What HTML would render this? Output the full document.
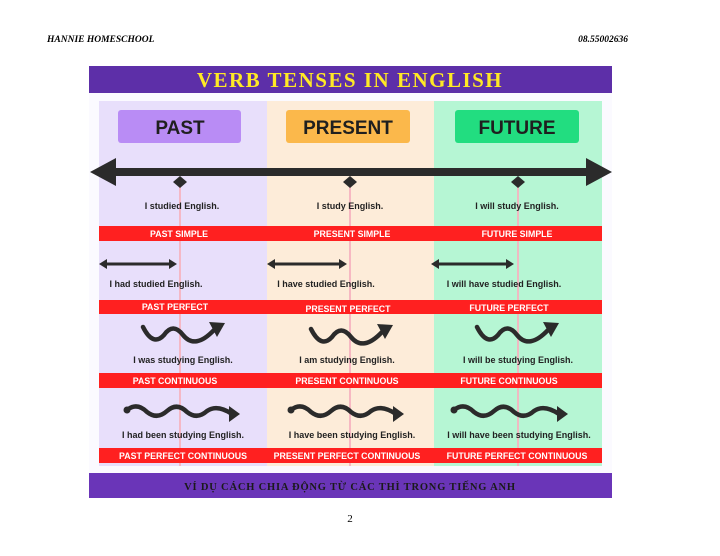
<!DOCTYPE html>
<html><head><meta charset="utf-8"><style>
html,body{margin:0;padding:0;background:#fff;width:720px;height:556px;overflow:hidden}
svg{display:block}
</style></head><body>
<svg width="720" height="556" viewBox="0 0 720 556" xmlns="http://www.w3.org/2000/svg">
<rect width="720" height="556" fill="#fff"/>
<text x="47" y="42" font-family="Liberation Serif, serif" font-style="italic" font-weight="bold" font-size="9.5">HANNIE HOMESCHOOL</text>
<text x="628" y="42" text-anchor="end" font-family="Liberation Serif, serif" font-style="italic" font-weight="bold" font-size="9.5">08.55002636</text>
<text x="350" y="522" text-anchor="middle" font-family="Liberation Serif, serif" font-size="11">2</text>

<rect x="89" y="93" width="523" height="380" fill="#fbfaff"/>
<rect x="89" y="66" width="523" height="27" fill="#5d2fa8"/>
<text x="350" y="87" text-anchor="middle" font-family="Liberation Serif, serif" font-weight="bold" font-size="21" fill="#ffe925" letter-spacing="1.5">VERB TENSES IN ENGLISH</text>

<rect x="99" y="101" width="168" height="365" fill="#e8dffb"/>
<rect x="267" y="101" width="167" height="365" fill="#fdecd9"/>
<rect x="434" y="101" width="168" height="365" fill="#b6f6d4"/>
<rect x="118" y="110" width="123" height="33" rx="3" fill="#b98cf5"/>
<rect x="286" y="110" width="124" height="33" rx="3" fill="#fbb84b"/>
<rect x="455" y="110" width="124" height="33" rx="3" fill="#22dd80"/>
<g font-family="Liberation Sans, sans-serif" font-weight="bold" font-size="19" fill="#1f1f1f" text-anchor="middle">
<text x="180" y="134">PAST</text><text x="348" y="134">PRESENT</text><text x="517" y="134">FUTURE</text>
</g>

<g stroke="#f6b3c0" stroke-width="1.8">
<line x1="180" y1="182" x2="180" y2="466"/><line x1="350" y1="182" x2="350" y2="466"/><line x1="518" y1="182" x2="518" y2="466"/>
</g>

<rect x="112" y="168" width="478" height="8" fill="#2b2b2b"/>
<polygon points="90,172 116,158 116,186" fill="#2b2b2b"/>
<polygon points="612,172 586,158 586,186" fill="#2b2b2b"/>
<g fill="#2b2b2b">
<polygon points="180,176 187,182 180,188 173,182"/>
<polygon points="350,176 357,182 350,188 343,182"/>
<polygon points="518,176 525,182 518,188 511,182"/>
</g>

<g fill="#ff2020">
<rect x="99" y="226" width="503" height="15"/>
<rect x="99" y="300" width="503" height="14"/>
<rect x="99" y="373" width="503" height="15"/>
<rect x="99" y="448" width="503" height="15"/>
</g>

<g font-family="Liberation Sans, sans-serif" font-weight="bold" font-size="9" fill="#222" text-anchor="middle">
<text x="182" y="209">I studied English.</text><text x="350" y="209">I study English.</text><text x="517" y="209">I will study English.</text>
<text x="156" y="287">I had studied English.</text><text x="326" y="287">I have studied English.</text><text x="504" y="287">I will have studied English.</text>
<text x="183" y="363">I was studying English.</text><text x="347" y="363">I am studying English.</text><text x="518" y="363">I will be studying English.</text>
<text x="183" y="438">I had been studying English.</text><text x="352" y="438">I have been studying English.</text><text x="519" y="438">I will have been studying English.</text>
</g>
<g font-family="Liberation Sans, sans-serif" font-weight="bold" font-size="8.8" fill="#fff" text-anchor="middle">
<text x="179" y="237">PAST SIMPLE</text><text x="352" y="237">PRESENT SIMPLE</text><text x="517" y="237">FUTURE SIMPLE</text>
<text x="175" y="310">PAST PERFECT</text><text x="348" y="312">PRESENT PERFECT</text><text x="509" y="311">FUTURE PERFECT</text>
<text x="175" y="384">PAST CONTINUOUS</text><text x="347" y="384">PRESENT CONTINUOUS</text><text x="509" y="384">FUTURE CONTINUOUS</text>
<text x="183" y="459">PAST PERFECT CONTINUOUS</text><text x="347" y="459">PRESENT PERFECT CONTINUOUS</text><text x="517" y="459">FUTURE PERFECT CONTINUOUS</text>
</g>

<g stroke="#2b2b2b" stroke-width="3" fill="#2b2b2b">
<line x1="104" y1="264" x2="172" y2="264"/><polygon points="99,264 107,259 107,269" stroke="none"/><polygon points="177,264 169,259 169,269" stroke="none"/>
<line x1="272" y1="264" x2="342" y2="264"/><polygon points="267,264 275,259 275,269" stroke="none"/><polygon points="347,264 339,259 339,269" stroke="none"/>
<line x1="436" y1="264" x2="509" y2="264"/><polygon points="431,264 439,259 439,269" stroke="none"/><polygon points="514,264 506,259 506,269" stroke="none"/>
</g>

<g fill="none" stroke="#2b2b2b" stroke-width="4.5" stroke-linecap="round">
<path d="M143,327 Q153,347 164,335 Q173,322 183,335 Q195,350 214,330"/>
<path d="M311,329 Q321,349 332,337 Q341,324 351,337 Q363,352 382,332"/>
<path d="M477,327 Q487,347 498,335 Q507,322 517,335 Q529,350 548,330"/>
<path d="M127,410 Q137,402 147,412 Q157,420 167,411 Q177,402 187,412 Q197,420 207,411 Q217,404 232,414"/>
<path d="M291,410 Q301,402 311,412 Q321,420 331,411 Q341,402 351,412 Q361,420 371,411 Q381,404 396,414"/>
<path d="M454,410 Q464,402 474,412 Q484,420 494,411 Q504,402 514,412 Q524,420 534,411 Q544,404 559,414"/>
</g>
<g fill="#2b2b2b">
<polygon points="225,323 209,322 217,337"/>
<polygon points="393,325 377,324 385,339"/>
<polygon points="559,323 543,322 551,337"/>
<polygon points="240,414 229,406 229,422"/>
<polygon points="404,414 393,406 393,422"/>
<polygon points="568,414 557,406 557,422"/>
<circle cx="127" cy="410" r="3.5"/><circle cx="291" cy="410" r="3.5"/><circle cx="454" cy="410" r="3.5"/>
</g>

<rect x="89" y="473" width="523" height="25" fill="#6a35b8"/>
<text x="350" y="490" text-anchor="middle" font-family="Liberation Serif, serif" font-weight="bold" font-size="10.5" fill="#1a1a1a" letter-spacing="0.8">VÍ DỤ CÁCH CHIA ĐỘNG TỪ CÁC THÌ TRONG TIẾNG ANH</text>
</svg>
</body></html>
